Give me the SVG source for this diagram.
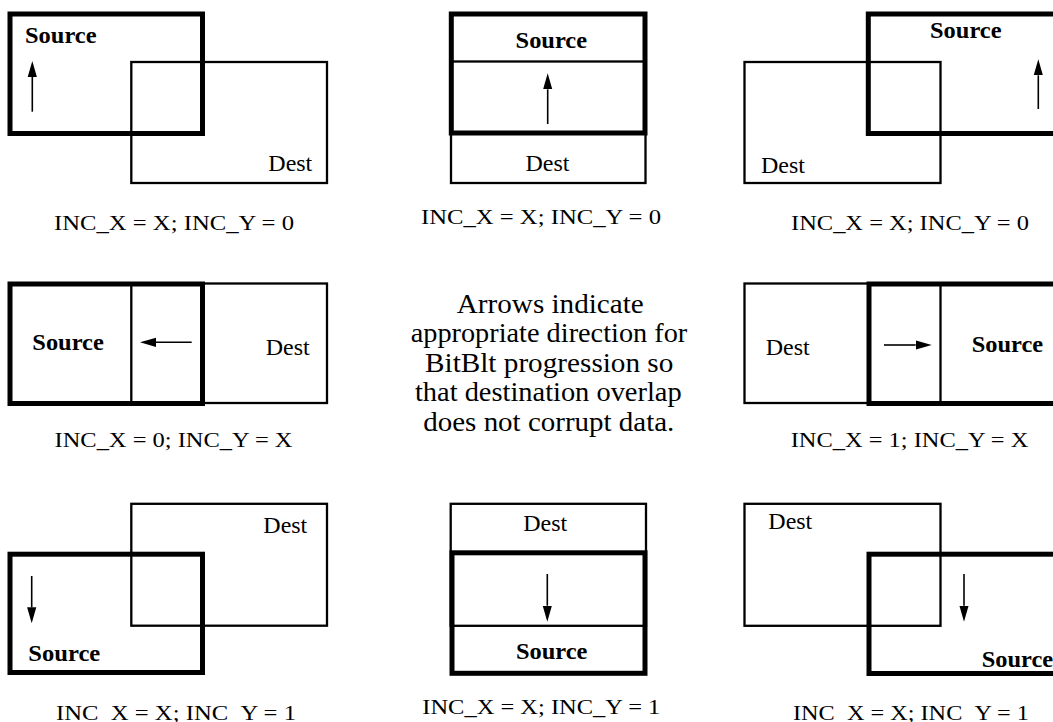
<svg xmlns="http://www.w3.org/2000/svg" width="1053" height="722" viewBox="0 0 1053 722">
<style>
.bg{fill:#fff}
.dest{fill:none;stroke:#000;stroke-width:2.3}
.src{fill:none;stroke:#000;stroke-width:5}
.lbl{font-family:"Liberation Serif","Times New Roman",serif;font-size:22.5px;fill:#000}
.slbl{font-family:"Liberation Serif","Times New Roman",serif;font-size:23px;font-weight:bold;fill:#000}
.cap{font-family:"Liberation Serif","Times New Roman",serif;font-size:21.5px;fill:#000;text-anchor:middle}
.note{font-family:"Liberation Serif","Times New Roman",serif;font-size:27px;fill:#000;text-anchor:middle}
.arr{stroke:#000;stroke-width:1.6;fill:none}
</style>
<defs>
<marker id="ah" viewBox="0 0 16 10" refX="0" refY="5" markerWidth="16" markerHeight="10" markerUnits="userSpaceOnUse" orient="auto">
<path d="M0,0.4 L16,5 L0,9.6 Z" fill="#000"/>
</marker>
</defs>
<rect class="bg" x="0" y="0" width="1053" height="722"/>

<g id="panel1">
<g id="p1-dest"><rect class="dest" x="131.3" y="62" width="195.7" height="121"/><text class="lbl" x="268.3" y="170.7" textLength="44" lengthAdjust="spacingAndGlyphs">Dest</text></g>
<g id="p1-source"><rect class="src" x="10" y="14" width="192.5" height="119.5"/><text class="slbl" x="25" y="43.3" textLength="71.5" lengthAdjust="spacingAndGlyphs">Source</text></g>
<text class="cap" x="174" y="230" textLength="240" lengthAdjust="spacingAndGlyphs">INC_X = X; INC_Y = 0</text>
</g>

<g id="panel2">
<g id="p2-dest"><rect class="dest" x="451" y="61.5" width="194.5" height="121.5"/><text class="lbl" x="547.5" y="170.7" text-anchor="middle" textLength="44" lengthAdjust="spacingAndGlyphs">Dest</text></g>
<g id="p2-source"><rect class="src" x="451.3" y="14" width="193.7" height="119"/><text class="slbl" x="551.3" y="48.3" text-anchor="middle" textLength="71.5" lengthAdjust="spacingAndGlyphs">Source</text></g>
<text class="cap" x="541" y="224" textLength="240" lengthAdjust="spacingAndGlyphs">INC_X = X; INC_Y = 0</text>
</g>

<g id="panel3">
<g id="p3-dest"><rect class="dest" x="744.5" y="62" width="196" height="121"/><text class="lbl" x="761" y="172.7" textLength="44" lengthAdjust="spacingAndGlyphs">Dest</text></g>
<g id="p3-source"><rect class="src" x="868.3" y="14" width="194" height="119.5"/><text class="slbl" x="930" y="37.7" textLength="71.5" lengthAdjust="spacingAndGlyphs">Source</text></g>
<text class="cap" x="910" y="230" textLength="238" lengthAdjust="spacingAndGlyphs">INC_X = X; INC_Y = 0</text>
</g>

<g id="panel4">
<g id="p4-dest"><rect class="dest" x="131.3" y="283.5" width="195.7" height="119.5"/><text class="lbl" x="265.7" y="355" textLength="44" lengthAdjust="spacingAndGlyphs">Dest</text></g>
<g id="p4-source"><rect class="src" x="10" y="284" width="192.5" height="119.5"/><text class="slbl" x="32.3" y="350" textLength="71.5" lengthAdjust="spacingAndGlyphs">Source</text></g>
<text class="cap" x="173.5" y="447.3" textLength="238" lengthAdjust="spacingAndGlyphs">INC_X = 0; INC_Y = X</text>
</g>

<g id="note">
<text class="note" x="550.3" y="312.7" textLength="187" lengthAdjust="spacingAndGlyphs">Arrows indicate</text>
<text class="note" x="549" y="341.7" textLength="276.6" lengthAdjust="spacingAndGlyphs">appropriate direction for</text>
<text class="note" x="549.2" y="371.7" textLength="248.3" lengthAdjust="spacingAndGlyphs">BitBlt progression so</text>
<text class="note" x="548.3" y="401" textLength="266.7" lengthAdjust="spacingAndGlyphs">that destination overlap</text>
<text class="note" x="548.8" y="430.7" textLength="251" lengthAdjust="spacingAndGlyphs">does not corrupt data.</text>
</g>

<g id="panel6">
<g id="p6-dest"><rect class="dest" x="744.5" y="283.5" width="196" height="119.5"/><text class="lbl" x="765.7" y="355" textLength="44" lengthAdjust="spacingAndGlyphs">Dest</text></g>
<g id="p6-source"><rect class="src" x="869" y="284" width="194" height="119.5"/><text class="slbl" x="971.7" y="351.7" textLength="71.5" lengthAdjust="spacingAndGlyphs">Source</text></g>
<text class="cap" x="909.5" y="447.3" textLength="237.6" lengthAdjust="spacingAndGlyphs">INC_X = 1; INC_Y = X</text>
</g>

<g id="panel7">
<g id="p7-dest"><rect class="dest" x="131.3" y="503.8" width="195.7" height="121.9"/><text class="lbl" x="263.3" y="533.3" textLength="44" lengthAdjust="spacingAndGlyphs">Dest</text></g>
<g id="p7-source"><rect class="src" x="10" y="554.2" width="192.5" height="118.3"/><text class="slbl" x="28.3" y="660.7" textLength="72" lengthAdjust="spacingAndGlyphs">Source</text></g>
<text class="cap" x="176" y="720" textLength="240" lengthAdjust="spacingAndGlyphs">INC_X = X; INC_Y = 1</text>
</g>

<g id="panel8">
<g id="p8-dest"><rect class="dest" x="450.7" y="503.8" width="195.3" height="122"/><text class="lbl" x="545.2" y="531" text-anchor="middle" textLength="44" lengthAdjust="spacingAndGlyphs">Dest</text></g>
<g id="p8-source"><rect class="src" x="452" y="552.8" width="193" height="120.5"/><text class="slbl" x="551.7" y="659.3" text-anchor="middle" textLength="71.5" lengthAdjust="spacingAndGlyphs">Source</text></g>
<text class="cap" x="541.3" y="714" textLength="238" lengthAdjust="spacingAndGlyphs">INC_X = X; INC_Y = 1</text>
</g>

<g id="panel9">
<g id="p9-dest"><rect class="dest" x="744.5" y="503.8" width="196" height="122"/><text class="lbl" x="768.3" y="529.3" textLength="44" lengthAdjust="spacingAndGlyphs">Dest</text></g>
<g id="p9-source"><rect class="src" x="869" y="554.2" width="194" height="119.3"/><text class="slbl" x="981.7" y="666.7" textLength="71.5" lengthAdjust="spacingAndGlyphs">Source</text></g>
<text class="cap" x="911" y="720" textLength="236" lengthAdjust="spacingAndGlyphs">INC_X = X; INC_Y = 1</text>
</g>

<g id="connectors">
<line class="arr" x1="32.3" y1="111.7" x2="32.3" y2="77" marker-end="url(#ah)"/>
<line class="arr" x1="547.7" y1="124" x2="547.7" y2="89.3" marker-end="url(#ah)"/>
<line class="arr" x1="1038.3" y1="109" x2="1038.3" y2="75.3" marker-end="url(#ah)"/>
<line class="arr" x1="191.7" y1="342.3" x2="156" y2="342.3" marker-end="url(#ah)"/>
<line class="arr" x1="884" y1="345" x2="915.7" y2="345" marker-end="url(#ah)"/>
<line class="arr" x1="31.7" y1="576" x2="31.7" y2="607.3" marker-end="url(#ah)"/>
<line class="arr" x1="547.3" y1="574" x2="547.3" y2="605.7" marker-end="url(#ah)"/>
<line class="arr" x1="964" y1="574" x2="964" y2="605.7" marker-end="url(#ah)"/>
</g>
</svg>
